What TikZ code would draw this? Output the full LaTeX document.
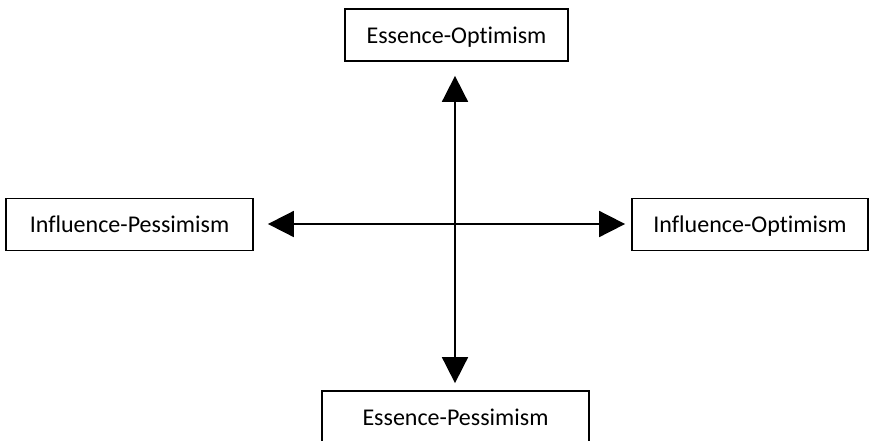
\documentclass[tikz,border=0pt]{standalone}
\usepackage{fontspec}
\setmainfont{Carlito}[Ligatures=NoCommon]
\usetikzlibrary{arrows.meta}
\usetikzlibrary{positioning}

\tikzset{
  pole/.style={draw, line width=1.5pt, minimum height=1.56cm, inner sep=0pt,
    text depth=0pt, font=\fontsize{20.5}{24}\selectfont},
  axis/.style={line width=1.5pt,
    {Triangle[length=0.78cm,width=0.78cm]}-{Triangle[length=0.78cm,width=0.78cm]}}
}

\begin{document}
\begin{tikzpicture}[x=0.03cm, y=-0.03cm]
	\useasboundingbox (0,0) rectangle (869,440);
	% the four poles
	\node[pole, minimum width=6.69cm] (eo) at (456.5,35) {Essence-Optimism};
	\node[pole, minimum width=8.01cm] (ep) at (455.5,417) {Essence-Pessimism};
	\node[pole, minimum width=7.41cm] (ip) at (129.5,224.5) {Influence-Pessimism};
	\node[pole, minimum width=7.08cm] (io) at (750,224.5) {Influence-Optimism};
	
	% crossing axes
	\coordinate (c) at (455,224);
	\draw[axis, shorten <=0.42cm, shorten >=0.21cm] (c |- eo.south) -- (c |- ep.north);
	\draw[axis, shorten <=0.42cm, shorten >=0.18cm] (ip.east |- c) -- (io.west |- c);
\end{tikzpicture}
\end{document}
